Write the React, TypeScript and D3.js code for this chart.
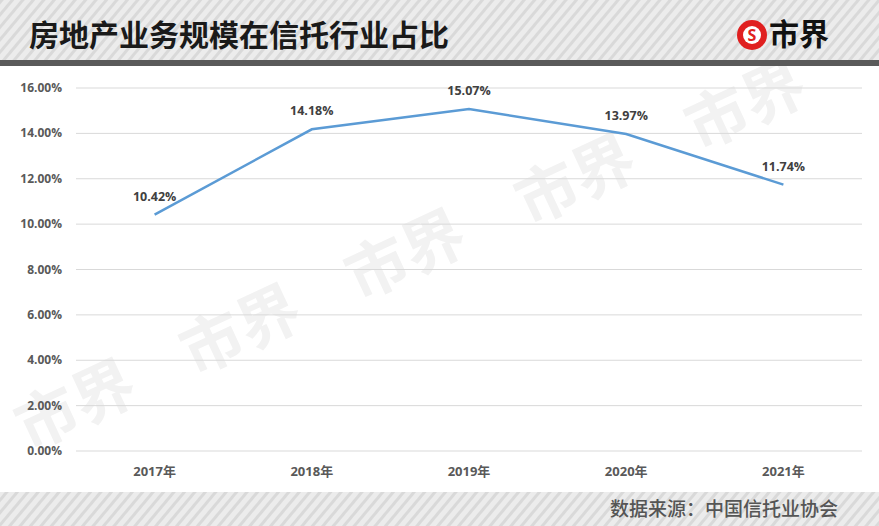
import * as d3 from 'd3';
import { useEffect, useRef } from 'react';

const years = ['2017年', '2018年', '2019年', '2020年', '2021年'];
const shares = [10.42, 14.18, 15.07, 13.97, 11.74];
const yTicks = [0, 2, 4, 6, 8, 10, 12, 14, 16];

export default function App() {
    const ref = useRef<SVGSVGElement>(null);

    useEffect(() => {
        const width = 879;
        const height = 526;
        const margin = { top: 88, right: 17, bottom: 75, left: 76 };
        const font = "'Open Sans', 'Noto Sans CJK SC', sans-serif";
        const cjk = "'Noto Sans CJK SC', sans-serif";

        const svg = d3.select(ref.current);
        svg.selectAll('*').remove();

        // stripes for header / footer
        const defs = svg.append('defs');
        const pat = defs.append('pattern')
            .attr('id', 'stripes')
            .attr('patternUnits', 'userSpaceOnUse')
            .attr('width', 8)
            .attr('height', 8)
            .attr('patternTransform', 'rotate(40)');
        pat.append('rect').attr('width', 8).attr('height', 8).attr('fill', '#ececec');
        pat.append('rect').attr('width', 3).attr('height', 8).attr('fill', '#d9d9d9');
        defs.append('clipPath').attr('id', 'panel')
            .append('rect').attr('x', 0).attr('y', 66).attr('width', width).attr('height', 426);

        svg.append('rect').attr('width', width).attr('height', 62).attr('fill', 'url(#stripes)');
        svg.append('rect').attr('y', 60).attr('width', width).attr('height', 6).attr('fill', '#5a5a5a');
        svg.append('rect').attr('y', 66).attr('width', width).attr('height', 426).attr('fill', '#fff');
        svg.append('rect').attr('y', 492).attr('width', width).attr('height', 34).attr('fill', 'url(#stripes)');

        svg.append('text')
            .attr('x', 29).attr('y', 46)
            .attr('font-family', cjk)
            .attr('font-weight', 'bold')
            .attr('font-size', 30)
            .attr('fill', '#1a1a1a')
            .text('房地产业务规模在信托行业占比');

        // logo
        const logo = svg.append('g').attr('transform', 'translate(752,35)');
        logo.append('circle').attr('r', 15).attr('fill', '#e02020');
        logo.append('circle').attr('r', 9).attr('fill', '#fff');
        logo.append('text')
            .attr('text-anchor', 'middle').attr('y', 6)
            .attr('font-family', font).attr('font-weight', 'bold')
            .attr('font-size', 16).attr('fill', '#e02020')
            .text('S');
        logo.append('text')
            .attr('x', 17).attr('y', 10)
            .attr('font-family', cjk)
            .attr('font-weight', 'bold').attr('font-size', 30)
            .attr('fill', '#111')
            .text('市界');

        // watermarks
        const wm = svg.append('g').attr('clip-path', 'url(#panel)');
        const marks = [[85, 425], [250, 350], [415, 275], [585, 200], [755, 125]];
        marks.forEach(([x, y]) => {
            wm.append('text')
                .attr('transform', `translate(${x},${y}) rotate(-25)`)
                .attr('text-anchor', 'middle')
                .attr('font-family', cjk)
                .attr('font-weight', 'bold')
                .attr('font-size', 62)
                .attr('fill', '#f2f2f2')
                .text('市界');
        });

        const x = d3.scaleBand().domain(years).range([margin.left, width - margin.right]);
        const y = d3.scaleLinear().domain([0, 16]).range([height - margin.bottom, margin.top]);

        // Gridlines
        svg.append('g')
            .selectAll('line')
            .data(yTicks)
            .join('line')
            .attr('x1', margin.left).attr('x2', width - margin.right)
            .attr('y1', (d) => y(d)).attr('y2', (d) => y(d))
            .attr('stroke', '#d9d9d9').attr('stroke-width', 1);

        // Y axis labels
        svg.append('g')
            .selectAll('text')
            .data(yTicks)
            .join('text')
            .attr('x', 62).attr('y', (d) => y(d) + 4)
            .attr('text-anchor', 'end')
            .attr('font-family', font).attr('font-weight', 'bold')
            .attr('font-size', 12).attr('fill', '#595959')
            .text((d) => d.toFixed(2) + '%');

        // X axis labels
        svg.append('g')
            .selectAll('text')
            .data(years)
            .join('text')
            .attr('x', (d) => x(d)! + x.bandwidth() / 2)
            .attr('y', 476)
            .attr('text-anchor', 'middle')
            .attr('font-family', font).attr('font-weight', 'bold')
            .attr('font-size', 13).attr('fill', '#595959')
            .text((d) => d);

        const line = d3.line<number>()
            .x((_, i) => x(years[i])! + x.bandwidth() / 2)
            .y((d) => y(d));

        svg.append('path')
            .datum(shares)
            .attr('d', line)
            .attr('fill', 'none')
            .attr('stroke', '#5b9bd5')
            .attr('stroke-width', 2.5);

        svg.append('g')
            .selectAll('text')
            .data(shares)
            .join('text')
            .attr('x', (_, i) => x(years[i])! + x.bandwidth() / 2)
            .attr('y', (d) => y(d) - 14)
            .attr('text-anchor', 'middle')
            .attr('font-family', font).attr('font-weight', 'bold')
            .attr('font-size', 12.5).attr('fill', '#404040')
            .text((d) => d.toFixed(2) + '%');

        svg.append('text')
            .attr('x', 838).attr('y', 516)
            .attr('text-anchor', 'end')
            .attr('font-family', cjk)
            .attr('font-size', 19).attr('font-weight', 500).attr('fill', '#555')
            .text('数据来源：中国信托业协会');
    }, []);

    return (
        <svg ref={ref} width={879} height={526}
            style={{ position: 'absolute', left: 0, top: 0, display: 'block' }} />
    );
}
